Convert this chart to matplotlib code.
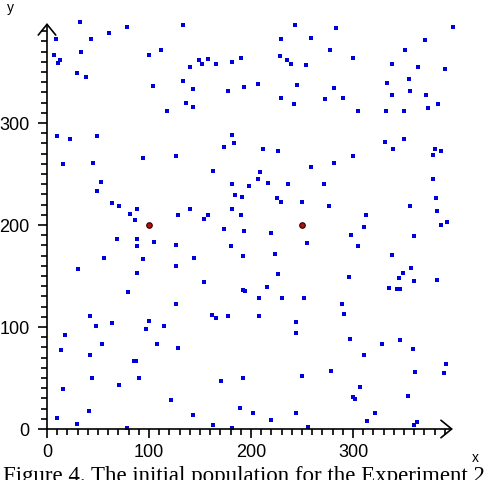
import numpy as np
import matplotlib
matplotlib.use("Agg")
import matplotlib.pyplot as plt
from matplotlib.ticker import FixedLocator

# population (blue squares)
xs = [32, 78, 61, 9, 43, 7, 33, 13, 11, 29, 38, 10, 23, 49, 94,
      133, 112, 100, 149, 158, 152, 166, 181, 190, 140, 133, 104, 143, 177, 193, 136, 143, 118, 181, 183, 174, 126,
      243, 283, 229, 259, 277, 228, 235, 239, 254, 207, 245, 281, 229, 242, 273, 290, 212, 226,
      398, 371, 351, 300, 338, 364, 390, 333, 355, 356, 338, 372, 383, 374, 305, 332, 350, 350, 331, 339, 380, 386, 300, 378,
      16, 45, 53, 49, 64, 71, 88, 81, 86, 69, 88, 88, 56, 94, 30, 88, 79,
      163, 181, 184, 191, 140, 128, 181, 190, 158, 154, 174, 193, 105, 126, 180, 144, 192, 126, 154, 192,
      281, 259, 209, 207, 217, 198, 236, 272, 225, 229, 250, 276, 220, 255, 224, 226, 194, 216, 208, 230, 252,
      378, 381, 356, 382, 313, 311, 386, 392, 298, 360, 305, 338, 357, 349, 345, 296, 360, 382, 335, 343, 346,
      42, 48, 64, 18, 54, 14, 42, 85, 87, 44, 90, 71, 16, 41, 10, 29, 78,
      126, 100, 97, 115, 162, 166, 177, 108, 128, 171, 192, 122, 189, 143, 163, 181,
      289, 291, 208, 244, 244, 250, 278, 202, 244, 220, 256,
      297, 328, 346, 359, 311, 391, 361, 389, 307, 354, 300, 302, 322, 314, 363, 360]
ys = [399, 394, 388, 382, 382, 367, 370, 362, 359, 349, 345, 287, 284, 287, 266,
      396, 372, 367, 362, 363, 358, 358, 360, 364, 355, 341, 336, 333, 331, 335, 320, 316, 312, 288, 280, 276, 268,
      396, 393, 382, 383, 372, 366, 362, 358, 357, 338, 337, 334, 325, 319, 324, 325, 275, 273,
      394, 381, 372, 364, 358, 355, 353, 339, 343, 331, 327, 327, 319, 315, 312, 312, 312, 284, 281, 275, 275, 273, 268, 269,
      260, 261, 242, 233, 222, 219, 216, 211, 205, 186, 186, 179, 168, 167, 157, 153, 134,
      253, 240, 229, 227, 216, 210, 216, 210, 210, 206, 196, 194, 183, 180, 179, 168, 170, 160, 144, 136,
      261, 257, 252, 245, 241, 238, 240, 240, 226, 223, 223, 219, 192, 182, 172, 152, 135, 139, 128, 128, 128,
      245, 226, 219, 214, 210, 198, 200, 203, 190, 189, 179, 171, 158, 153, 148, 149, 145, 146, 138, 137, 137,
      111, 101, 104, 92, 83, 77, 73, 67, 67, 50, 50, 43, 39, 18, 11, 5, 1,
      123, 106, 98, 101, 112, 109, 111, 83, 79, 47, 50, 28, 21, 14, 4, 1,
      123, 113, 111, 105, 94, 52, 57, 16, 16, 9, 2,
      88, 83, 87, 78, 73, 64, 56, 55, 41, 32, 31, 29, 16, 8, 7, 4]

# the two fixed points (red)
red_x = [100, 250]
red_y = [200, 200]

x_ticks = [0, 100, 200, 300]
y_ticks = [0, 100, 200, 300]
caption = "Figure 4. The initial population for the Experiment 2"

tick_font = ['Liberation Sans Narrow', 'Liberation Sans', 'DejaVu Sans']

fig = plt.figure(figsize=(4.88, 4.80), dpi=100)
ax = fig.add_axes([47 / 488, 51 / 480, 408 / 488, 408 / 480])
ax.set_xlim(0, 400)
ax.set_ylim(0, 400)

ax.plot(xs, ys, 's', color='#0000dd', markersize=3.5, markeredgewidth=0, clip_on=False)
ax.plot(red_x, red_y, 'o', color='#b01010', markeredgecolor='#300000',
        markeredgewidth=0.8, markersize=4, clip_on=False)

for s in ax.spines.values():
    s.set_visible(False)

# axis lines with open arrow heads
arrow = dict(arrowstyle='->,head_length=0.55,head_width=0.45', lw=1.2, color='black',
             mutation_scale=14, shrinkA=0, shrinkB=0)
ax.annotate('', xy=(398, 0), xytext=(0, 0), arrowprops=arrow, annotation_clip=False)
ax.annotate('', xy=(0, 398), xytext=(0, 0), arrowprops=arrow, annotation_clip=False)

ax.xaxis.set_major_locator(FixedLocator(x_ticks))
ax.yaxis.set_major_locator(FixedLocator(y_ticks))
ax.xaxis.set_minor_locator(FixedLocator(np.arange(10, 400, 10)))
ax.yaxis.set_minor_locator(FixedLocator(np.arange(10, 400, 10)))
ax.tick_params(which='major', direction='out', length=6.5, width=1.2, pad=4)
ax.tick_params(which='minor', direction='out', length=4.5, width=1.2)
ax.tick_params(axis='y', which='major', pad=6)
for lab in ax.get_xticklabels() + ax.get_yticklabels():
    lab.set_family(tick_font)
    lab.set_fontsize(13)

fig.text(475 / 488, 1 - 458 / 480, 'x', ha='center', va='center', fontsize=10,
         family=tick_font)
fig.text(10 / 488, 1 - 8 / 480, 'y', ha='center', va='center', fontsize=10,
         family=tick_font)
fig.text(3 / 488, 1 - 466 / 480, caption, ha='left', va='top', fontsize=16.5,
         family=['Liberation Serif', 'DejaVu Serif'])

fig.savefig('out.png', dpi=100)
